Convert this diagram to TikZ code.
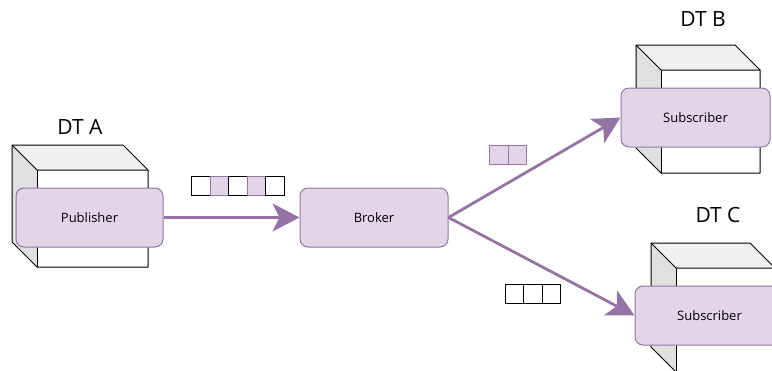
\documentclass[tikz,border=0pt]{standalone}
\usepackage{fontspec}
\setmainfont{Open Sans}
\usetikzlibrary{arrows.meta}
\definecolor{pfill}{HTML}{E1D5E7}
\definecolor{pline}{HTML}{9673A6}
\definecolor{ctop}{HTML}{F0F0F0}
\definecolor{cside}{HTML}{E0E0E0}
\tikzset{
  comp/.style={draw=pline, fill=pfill, rounded corners=8pt, line width=1pt, font=\fontsize{13}{15}\selectfont, inner sep=0pt},
  dtlabel/.style={font=\fontsize{21}{24}\selectfont, inner sep=0pt},
  flow/.style={draw=pline, line width=2.8pt, -{Stealth[length=27pt, width=28pt, inset=7pt]}},
  wcell/.style={draw=black, fill=white, line width=1pt, minimum width=18.5pt, minimum height=19pt, inner sep=0pt},
  pcell/.style={draw=pline, fill=pfill, line width=1pt, minimum width=18.5pt, minimum height=19pt, inner sep=0pt},
  cubeline/.style={draw=black, line width=1pt, line join=round}
}
% cube: #1 back x, #2 back y, #3 front right x, #4 front bottom y, d = 25
\newcommand{\mycube}[4]{%
  \fill[ctop] (#1,#2) -- (#3-25,#2) -- (#3,#2+25) -- (#1+25,#2+25) -- cycle;
  \fill[cside] (#1,#2) -- (#1+25,#2+25) -- (#1+25,#4) -- (#1,#4-25) -- cycle;
  \fill[white] (#1+25,#2+25) rectangle (#3,#4);
  \draw[cubeline] (#1,#2) -- (#3-25,#2) -- (#3,#2+25) -- (#3,#4) -- (#1+25,#4) -- (#1,#4-25) -- cycle;
  \draw[cubeline] (#1,#2) -- (#1+25,#2+25) -- (#3,#2+25);
  \draw[cubeline] (#1+25,#2+25) -- (#1+25,#4);
}
\begin{document}
\begin{tikzpicture}[x=1pt, y=-1pt]
\useasboundingbox (0,0) rectangle (772,370);
\begin{scope}
\clip (0,0) rectangle (772,370);
% cubes
\mycube{12}{145}{148}{267}
\mycube{636}{45}{760}{173}
\mycube{651}{243}{775}{372}
% labels
\node[dtlabel] (lblA) at (80,127) {DT A};
\node[dtlabel] (lblB) at (703,19) {DT B};
\node[dtlabel] (lblC) at (718,215) {DT C};
% components
\node[comp, minimum width=147pt, minimum height=59pt] (pub) at (89.5,217.5) {Publisher};
\node[comp, minimum width=148pt, minimum height=59pt] (broker) at (374,217.5) {Broker};
\node[comp, minimum width=149pt, minimum height=59pt] (subB) at (695.5,117.5) {Subscriber};
\node[comp, minimum width=149pt, minimum height=59pt] (subC) at (709.5,315.5) {Subscriber};
% flows
\draw[flow] (pub.east) -- (broker.west);
\draw[flow] (broker.east) -- (subB.west);
\draw[flow] (broker.east) -- (subC.west);
% messages A
\node[wcell] (a1) at (201,186.2) {};
\node[pcell] (a2) at (219.5,186.2) {};
\node[wcell] (a3) at (238,186.2) {};
\node[pcell] (a4) at (256.5,186.2) {};
\node[wcell] (a5) at (275,186.2) {};
% messages B
\node[pcell] (b1) at (499.2,154.7) {};
\node[pcell] (b2) at (517.7,154.7) {};
% messages C
\node[wcell] (c1) at (514.3,294) {};
\node[wcell] (c2) at (532.8,294) {};
\node[wcell] (c3) at (551.3,294) {};
\end{scope}
\end{tikzpicture}
\end{document}
